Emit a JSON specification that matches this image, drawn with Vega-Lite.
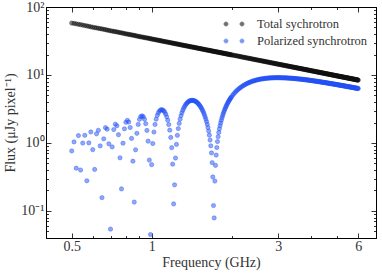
{
"$schema": "https://vega.github.io/schema/vega-lite/v6.json",
"width": 330, "height": 231,
"autosize": {"type": "none"},
"padding": {"left": 46, "top": 7, "right": 6, "bottom": 35},
"background": "white",
"data": {"values": [
{"f":0.50,"t":58.00,"p":0.763},{"f":0.51,"t":57.23,"p":1.035},{"f":0.52,"t":56.47,"p":0.425},{"f":0.53,"t":55.70,"p":1.284},{"f":0.54,"t":54.94,"p":0.400},
{"f":0.55,"t":54.17,"p":0.997},{"f":0.56,"t":53.40,"p":1.294},{"f":0.57,"t":52.64,"p":0.278},{"f":0.58,"t":51.87,"p":1.003},{"f":0.59,"t":51.11,"p":1.450},
{"f":0.60,"t":50.34,"p":0.796},{"f":0.61,"t":49.77,"p":0.408},{"f":0.62,"t":49.20,"p":1.361},{"f":0.63,"t":48.64,"p":1.535},{"f":0.64,"t":48.07,"p":0.906},
{"f":0.65,"t":47.50,"p":0.157},{"f":0.66,"t":46.93,"p":1.151},{"f":0.67,"t":46.36,"p":1.680},{"f":0.68,"t":45.80,"p":1.592},{"f":0.69,"t":45.23,"p":0.971},
{"f":0.70,"t":44.66,"p":0.054},{"f":0.71,"t":44.22,"p":0.874},{"f":0.72,"t":43.78,"p":1.572},{"f":0.73,"t":43.34,"p":1.891},{"f":0.74,"t":42.90,"p":1.789},
{"f":0.75,"t":42.46,"p":1.321},{"f":0.76,"t":42.02,"p":0.605},{"f":0.77,"t":41.58,"p":0.211},{"f":0.78,"t":41.14,"p":0.991},{"f":0.79,"t":40.70,"p":1.615},
{"f":0.80,"t":40.26,"p":2.011},{"f":0.81,"t":39.91,"p":2.150},{"f":0.82,"t":39.55,"p":2.030},{"f":0.83,"t":39.20,"p":1.686},{"f":0.84,"t":38.85,"p":1.167},
{"f":0.85,"t":38.50,"p":0.539},{"f":0.86,"t":38.14,"p":0.135},{"f":0.87,"t":37.79,"p":0.793},{"f":0.88,"t":37.44,"p":1.384},{"f":0.89,"t":37.08,"p":1.871},
{"f":0.90,"t":36.73,"p":2.226},{"f":0.91,"t":36.44,"p":2.441},{"f":0.92,"t":36.15,"p":2.508},{"f":0.93,"t":35.87,"p":2.435},{"f":0.94,"t":35.58,"p":2.235},
{"f":0.95,"t":35.29,"p":1.923},{"f":0.96,"t":35.00,"p":1.526},{"f":0.97,"t":34.71,"p":1.063},{"f":0.98,"t":34.43,"p":0.560},{"f":0.99,"t":34.14,"p":0.045},
{"f":1.00,"t":33.85,"p":0.480},{"f":1.01,"t":33.61,"p":0.981},{"f":1.02,"t":33.37,"p":1.448},{"f":1.03,"t":33.12,"p":1.870},{"f":1.04,"t":32.88,"p":2.237},
{"f":1.05,"t":32.64,"p":2.541},{"f":1.06,"t":32.40,"p":2.779},{"f":1.07,"t":32.16,"p":2.947},{"f":1.08,"t":31.91,"p":3.050},{"f":1.09,"t":31.67,"p":3.085},
{"f":1.10,"t":31.43,"p":3.057},{"f":1.11,"t":31.23,"p":2.974},{"f":1.12,"t":31.02,"p":2.838},{"f":1.13,"t":30.82,"p":2.652},{"f":1.14,"t":30.61,"p":2.423},
{"f":1.15,"t":30.41,"p":2.159},{"f":1.16,"t":30.20,"p":1.863},{"f":1.17,"t":30.00,"p":1.543},{"f":1.18,"t":29.79,"p":1.204},{"f":1.19,"t":29.59,"p":0.852},
{"f":1.20,"t":29.38,"p":0.488},{"f":1.21,"t":29.20,"p":0.127},{"f":1.22,"t":29.02,"p":0.242},{"f":1.23,"t":28.85,"p":0.600},{"f":1.24,"t":28.67,"p":0.953},
{"f":1.25,"t":28.49,"p":1.296},{"f":1.26,"t":28.31,"p":1.627},{"f":1.27,"t":28.13,"p":1.940},{"f":1.28,"t":27.96,"p":2.239},{"f":1.29,"t":27.78,"p":2.517},
{"f":1.30,"t":27.60,"p":2.774},{"f":1.31,"t":27.45,"p":3.012},{"f":1.32,"t":27.29,"p":3.233},{"f":1.33,"t":27.14,"p":3.428},{"f":1.34,"t":26.98,"p":3.603},
{"f":1.35,"t":26.83,"p":3.756},{"f":1.36,"t":26.68,"p":3.885},{"f":1.37,"t":26.52,"p":3.994},{"f":1.38,"t":26.37,"p":4.084},{"f":1.39,"t":26.21,"p":4.151},
{"f":1.40,"t":26.06,"p":4.197},{"f":1.41,"t":25.92,"p":4.228},{"f":1.42,"t":25.79,"p":4.239},{"f":1.43,"t":25.65,"p":4.234},{"f":1.44,"t":25.52,"p":4.210},
{"f":1.45,"t":25.38,"p":4.171},{"f":1.46,"t":25.24,"p":4.118},{"f":1.47,"t":25.11,"p":4.047},{"f":1.48,"t":24.97,"p":3.966},{"f":1.49,"t":24.84,"p":3.872},
{"f":1.50,"t":24.70,"p":3.767},{"f":1.51,"t":24.58,"p":3.652},{"f":1.52,"t":24.46,"p":3.527},{"f":1.53,"t":24.34,"p":3.390},{"f":1.54,"t":24.22,"p":3.247},
{"f":1.55,"t":24.10,"p":3.097},{"f":1.56,"t":23.97,"p":2.937},{"f":1.57,"t":23.85,"p":2.773},{"f":1.58,"t":23.73,"p":2.604},{"f":1.59,"t":23.61,"p":2.425},
{"f":1.60,"t":23.49,"p":2.247},{"f":1.61,"t":23.38,"p":2.063},{"f":1.62,"t":23.27,"p":1.877},{"f":1.63,"t":23.17,"p":1.688},{"f":1.64,"t":23.06,"p":1.497},
{"f":1.65,"t":22.95,"p":1.302},{"f":1.66,"t":22.84,"p":1.105},{"f":1.67,"t":22.73,"p":0.909},{"f":1.68,"t":22.63,"p":0.713},{"f":1.69,"t":22.52,"p":0.513},
{"f":1.70,"t":22.41,"p":0.316},{"f":1.71,"t":22.31,"p":0.120},{"f":1.72,"t":22.22,"p":0.079},{"f":1.73,"t":22.12,"p":0.275},{"f":1.74,"t":22.02,"p":0.468},
{"f":1.75,"t":21.93,"p":0.663},{"f":1.76,"t":21.83,"p":0.855},{"f":1.77,"t":21.73,"p":1.048},{"f":1.78,"t":21.63,"p":1.237},{"f":1.79,"t":21.54,"p":1.427},
{"f":1.80,"t":21.44,"p":1.613},{"f":1.81,"t":21.35,"p":1.794},{"f":1.82,"t":21.26,"p":1.976},{"f":1.83,"t":21.18,"p":2.158},{"f":1.84,"t":21.09,"p":2.337},
{"f":1.85,"t":21.00,"p":2.507},{"f":1.86,"t":20.91,"p":2.679},{"f":1.87,"t":20.82,"p":2.845},{"f":1.88,"t":20.74,"p":3.016},{"f":1.89,"t":20.65,"p":3.176},
{"f":1.90,"t":20.56,"p":3.334},{"f":1.91,"t":20.48,"p":3.494},{"f":1.92,"t":20.40,"p":3.648},{"f":1.93,"t":20.32,"p":3.800},{"f":1.94,"t":20.24,"p":3.953},
{"f":1.95,"t":20.16,"p":4.098},{"f":1.96,"t":20.07,"p":4.244},{"f":1.97,"t":19.99,"p":4.381},{"f":1.98,"t":19.91,"p":4.515},{"f":1.99,"t":19.83,"p":4.652},
{"f":2.00,"t":19.75,"p":4.784},
{"f":2.02,"t":19.61,"p":5.04},{"f":2.04,"t":19.47,"p":5.29},{"f":2.06,"t":19.32,"p":5.52},{"f":2.08,"t":19.18,"p":5.75},{"f":2.10,"t":19.04,"p":5.96},
{"f":2.12,"t":18.90,"p":6.16},{"f":2.14,"t":18.76,"p":6.35},{"f":2.16,"t":18.62,"p":6.53},{"f":2.18,"t":18.48,"p":6.70},{"f":2.20,"t":18.34,"p":6.87},
{"f":2.22,"t":18.22,"p":7.02},{"f":2.24,"t":18.09,"p":7.16},{"f":2.26,"t":17.97,"p":7.30},{"f":2.28,"t":17.84,"p":7.44},{"f":2.30,"t":17.72,"p":7.58},
{"f":2.32,"t":17.60,"p":7.69},{"f":2.34,"t":17.49,"p":7.79},{"f":2.36,"t":17.37,"p":7.90},{"f":2.38,"t":17.26,"p":8.00},{"f":2.40,"t":17.14,"p":8.11},
{"f":2.42,"t":17.03,"p":8.18},{"f":2.44,"t":16.93,"p":8.26},{"f":2.46,"t":16.82,"p":8.34},{"f":2.48,"t":16.72,"p":8.42},{"f":2.50,"t":16.61,"p":8.49},
{"f":2.52,"t":16.51,"p":8.55},{"f":2.54,"t":16.41,"p":8.60},{"f":2.56,"t":16.31,"p":8.66},{"f":2.58,"t":16.21,"p":8.71},{"f":2.60,"t":16.11,"p":8.77},
{"f":2.62,"t":16.02,"p":8.80},{"f":2.64,"t":15.93,"p":8.84},{"f":2.66,"t":15.83,"p":8.87},{"f":2.68,"t":15.74,"p":8.91},{"f":2.70,"t":15.65,"p":8.95},
{"f":2.72,"t":15.56,"p":8.97},{"f":2.74,"t":15.47,"p":8.99},{"f":2.76,"t":15.39,"p":9.01},{"f":2.78,"t":15.30,"p":9.04},{"f":2.80,"t":15.21,"p":9.06},
{"f":2.82,"t":15.13,"p":9.07},{"f":2.84,"t":15.05,"p":9.08},{"f":2.86,"t":14.96,"p":9.09},{"f":2.88,"t":14.88,"p":9.10},{"f":2.90,"t":14.80,"p":9.11},
{"f":2.92,"t":14.72,"p":9.11},{"f":2.94,"t":14.64,"p":9.12},{"f":2.96,"t":14.57,"p":9.12},{"f":2.98,"t":14.49,"p":9.12},{"f":3.00,"t":14.41,"p":9.12},
{"f":3.02,"t":14.34,"p":9.12},{"f":3.04,"t":14.27,"p":9.11},{"f":3.06,"t":14.20,"p":9.11},{"f":3.08,"t":14.13,"p":9.10},{"f":3.10,"t":14.06,"p":9.10},
{"f":3.12,"t":13.99,"p":9.09},{"f":3.14,"t":13.92,"p":9.08},{"f":3.16,"t":13.85,"p":9.08},{"f":3.18,"t":13.78,"p":9.07},{"f":3.20,"t":13.71,"p":9.06},
{"f":3.22,"t":13.65,"p":9.04},{"f":3.24,"t":13.58,"p":9.03},{"f":3.26,"t":13.52,"p":9.01},{"f":3.28,"t":13.46,"p":9.00},{"f":3.30,"t":13.40,"p":8.99},
{"f":3.32,"t":13.33,"p":8.97},{"f":3.34,"t":13.27,"p":8.96},{"f":3.36,"t":13.21,"p":8.94},{"f":3.38,"t":13.14,"p":8.93},{"f":3.40,"t":13.08,"p":8.92},
{"f":3.42,"t":13.02,"p":8.90},{"f":3.44,"t":12.97,"p":8.88},{"f":3.46,"t":12.91,"p":8.86},{"f":3.48,"t":12.85,"p":8.84},{"f":3.50,"t":12.80,"p":8.82},
{"f":3.52,"t":12.74,"p":8.80},{"f":3.54,"t":12.68,"p":8.78},{"f":3.56,"t":12.62,"p":8.76},{"f":3.58,"t":12.57,"p":8.74},{"f":3.60,"t":12.51,"p":8.72},
{"f":3.62,"t":12.46,"p":8.70},{"f":3.64,"t":12.41,"p":8.68},{"f":3.66,"t":12.36,"p":8.66},{"f":3.68,"t":12.31,"p":8.64},{"f":3.70,"t":12.26,"p":8.62},
{"f":3.72,"t":12.20,"p":8.59},{"f":3.74,"t":12.15,"p":8.57},{"f":3.76,"t":12.10,"p":8.55},{"f":3.78,"t":12.05,"p":8.53},{"f":3.80,"t":12.00,"p":8.51},
{"f":3.82,"t":11.95,"p":8.49},{"f":3.84,"t":11.91,"p":8.47},{"f":3.86,"t":11.86,"p":8.44},{"f":3.88,"t":11.81,"p":8.42},{"f":3.90,"t":11.77,"p":8.40},
{"f":3.92,"t":11.72,"p":8.37},{"f":3.94,"t":11.67,"p":8.35},{"f":3.96,"t":11.62,"p":8.33},{"f":3.98,"t":11.58,"p":8.31},{"f":4.00,"t":11.53,"p":8.28},
{"f":4.02,"t":11.49,"p":8.26},{"f":4.04,"t":11.44,"p":8.24},{"f":4.06,"t":11.40,"p":8.21},{"f":4.08,"t":11.36,"p":8.19},{"f":4.10,"t":11.32,"p":8.17},
{"f":4.12,"t":11.27,"p":8.15},{"f":4.14,"t":11.23,"p":8.12},{"f":4.16,"t":11.19,"p":8.10},{"f":4.18,"t":11.14,"p":8.08},{"f":4.20,"t":11.10,"p":8.06},
{"f":4.22,"t":11.06,"p":8.03},{"f":4.24,"t":11.02,"p":8.01},{"f":4.26,"t":10.98,"p":7.99},{"f":4.28,"t":10.94,"p":7.96},{"f":4.30,"t":10.90,"p":7.94},
{"f":4.32,"t":10.86,"p":7.92},{"f":4.34,"t":10.82,"p":7.90},{"f":4.36,"t":10.78,"p":7.87},{"f":4.38,"t":10.74,"p":7.85},{"f":4.40,"t":10.70,"p":7.83},
{"f":4.42,"t":10.66,"p":7.80},{"f":4.44,"t":10.63,"p":7.78},{"f":4.46,"t":10.59,"p":7.76},{"f":4.48,"t":10.56,"p":7.74},{"f":4.50,"t":10.52,"p":7.72},
{"f":4.52,"t":10.48,"p":7.70},{"f":4.54,"t":10.45,"p":7.68},{"f":4.56,"t":10.41,"p":7.65},{"f":4.58,"t":10.38,"p":7.63},{"f":4.60,"t":10.34,"p":7.61},
{"f":4.62,"t":10.31,"p":7.59},{"f":4.64,"t":10.27,"p":7.57},{"f":4.66,"t":10.24,"p":7.55},{"f":4.68,"t":10.20,"p":7.52},{"f":4.70,"t":10.17,"p":7.50},
{"f":4.72,"t":10.14,"p":7.48},{"f":4.74,"t":10.10,"p":7.46},{"f":4.76,"t":10.07,"p":7.44},{"f":4.78,"t":10.03,"p":7.42},{"f":4.80,"t":10.00,"p":7.40},
{"f":4.82,"t":9.97,"p":7.38},{"f":4.84,"t":9.94,"p":7.36},{"f":4.86,"t":9.91,"p":7.34},{"f":4.88,"t":9.88,"p":7.32},{"f":4.90,"t":9.85,"p":7.30},
{"f":4.92,"t":9.81,"p":7.28},{"f":4.94,"t":9.78,"p":7.26},{"f":4.96,"t":9.75,"p":7.24},{"f":4.98,"t":9.72,"p":7.22},{"f":5.00,"t":9.69,"p":7.20},
{"f":5.02,"t":9.66,"p":7.18},{"f":5.04,"t":9.63,"p":7.16},{"f":5.06,"t":9.60,"p":7.14},{"f":5.08,"t":9.57,"p":7.12},{"f":5.10,"t":9.55,"p":7.10},
{"f":5.12,"t":9.52,"p":7.08},{"f":5.14,"t":9.49,"p":7.06},{"f":5.16,"t":9.46,"p":7.04},{"f":5.18,"t":9.43,"p":7.02},{"f":5.20,"t":9.40,"p":7.01},
{"f":5.22,"t":9.37,"p":6.99},{"f":5.24,"t":9.35,"p":6.97},{"f":5.26,"t":9.32,"p":6.95},{"f":5.28,"t":9.29,"p":6.93},{"f":5.30,"t":9.27,"p":6.91},
{"f":5.32,"t":9.24,"p":6.90},{"f":5.34,"t":9.21,"p":6.88},{"f":5.36,"t":9.18,"p":6.86},{"f":5.38,"t":9.16,"p":6.84},{"f":5.40,"t":9.13,"p":6.82},
{"f":5.42,"t":9.11,"p":6.81},{"f":5.44,"t":9.08,"p":6.79},{"f":5.46,"t":9.06,"p":6.77},{"f":5.48,"t":9.03,"p":6.75},{"f":5.50,"t":9.01,"p":6.74},
{"f":5.52,"t":8.98,"p":6.72},{"f":5.54,"t":8.96,"p":6.70},{"f":5.56,"t":8.93,"p":6.69},{"f":5.58,"t":8.91,"p":6.67},{"f":5.60,"t":8.88,"p":6.65},
{"f":5.62,"t":8.86,"p":6.63},{"f":5.64,"t":8.83,"p":6.62},{"f":5.66,"t":8.81,"p":6.60},{"f":5.68,"t":8.78,"p":6.58},{"f":5.70,"t":8.76,"p":6.57},
{"f":5.72,"t":8.74,"p":6.55},{"f":5.74,"t":8.71,"p":6.53},{"f":5.76,"t":8.69,"p":6.52},{"f":5.78,"t":8.66,"p":6.50},{"f":5.80,"t":8.64,"p":6.48},
{"f":5.82,"t":8.62,"p":6.47},{"f":5.84,"t":8.59,"p":6.45},{"f":5.86,"t":8.57,"p":6.43},{"f":5.88,"t":8.55,"p":6.42},{"f":5.90,"t":8.53,"p":6.40},
{"f":5.92,"t":8.50,"p":6.39},{"f":5.94,"t":8.48,"p":6.37},{"f":5.96,"t":8.46,"p":6.35},{"f":5.98,"t":8.43,"p":6.34},{"f":6.00,"t":8.41,"p":6.32}
]},
"layer": [
{
"mark": {"type": "circle", "size": 18, "fillOpacity": 0.5, "strokeOpacity": 0.7, "strokeWidth": 0.6},
"encoding": {
"x": {"field": "f", "type": "quantitative", "scale": {"type": "log", "domain": [0.4, 7], "nice": false},
 "axis": {"orient": "bottom", "values": [0.5,0.6,0.7,0.8,0.9,1,2,3,4,5,6],
  "labelExpr": "datum.value==0.5?'0.5':datum.value==1?'1':datum.value==3?'3':datum.value==6?'6':''",
  "tickSize": {"condition": {"test": "datum.value==0.5||datum.value==1||datum.value==3||datum.value==6", "value": -5}, "value": -2.5},
  "labelPadding": 6, "title": "Frequency (GHz)", "titlePadding": 0}},
"y": {"field": "t", "type": "quantitative", "scale": {"type": "log", "domain": [0.04, 100], "nice": false},
 "axis": {"orient": "left", "values": [0.04,0.05,0.06,0.07,0.08,0.09,0.1,0.2,0.3,0.4,0.5,0.6,0.7,0.8,0.9,1,2,3,4,5,6,7,8,9,10,20,30,40,50,60,70,80,90,100],
  "labelExpr": "datum.value==0.1?'10⁻¹':datum.value==1?'10⁰':datum.value==10?'10¹':datum.value==100?'10²':''",
  "tickSize": {"condition": {"test": "datum.value==0.1||datum.value==1||datum.value==10||datum.value==100", "value": -5}, "value": -2.5},
  "labelPadding": 7, "title": "Flux (μJy pixel⁻¹)", "titlePadding": 3}},
"fill": {"datum": "Total sychrotron", "scale": {"domain": ["Total sychrotron", "Polarized synchrotron"], "range": ["#111111", "#2452f5"]},
 "legend": {"title": null, "orient": "top-right", "offset": 8, "padding": 0, "symbolType": "M -0.705 0 A 0.235 0.235 0 1 1 -1.175 0 A 0.235 0.235 0 1 1 -0.705 0 Z M 1.175 0 A 0.235 0.235 0 1 1 0.705 0 A 0.235 0.235 0 1 1 1.175 0 Z", "symbolSize": 289, "symbolOpacity": 0.6, "symbolStrokeWidth": 0.8, "labelFont": "Liberation Serif", "labelFontSize": 12.5, "labelColor": "#333", "labelOffset": 14, "rowPadding": 1}},
"stroke": {"datum": "Total sychrotron", "scale": {"domain": ["Total sychrotron", "Polarized synchrotron"], "range": ["#111111", "#2452f5"]},
 "legend": {"title": null, "orient": "top-right", "offset": 8, "padding": 0, "symbolType": "M -0.705 0 A 0.235 0.235 0 1 1 -1.175 0 A 0.235 0.235 0 1 1 -0.705 0 Z M 1.175 0 A 0.235 0.235 0 1 1 0.705 0 A 0.235 0.235 0 1 1 1.175 0 Z", "symbolSize": 289, "symbolOpacity": 0.6, "symbolStrokeWidth": 0.8, "labelFont": "Liberation Serif", "labelFontSize": 12.5, "labelColor": "#333", "labelOffset": 14, "rowPadding": 1}}
}
},
{
"mark": {"type": "circle", "size": 18, "fillOpacity": 0.5, "strokeOpacity": 0.7, "strokeWidth": 0.6},
"encoding": {
"x": {"field": "f", "type": "quantitative", "scale": {"type": "log", "domain": [0.4, 7], "nice": false},
 "axis": {"orient": "top", "values": [0.5,0.6,0.7,0.8,0.9,1,2,3,4,5,6], "labels": false, "title": null,
  "tickSize": {"condition": {"test": "datum.value==0.5||datum.value==1||datum.value==3||datum.value==6", "value": -5}, "value": -2.5}}},
"y": {"field": "p", "type": "quantitative", "scale": {"type": "log", "domain": [0.04, 100], "nice": false},
 "axis": {"orient": "right", "values": [0.04,0.05,0.06,0.07,0.08,0.09,0.1,0.2,0.3,0.4,0.5,0.6,0.7,0.8,0.9,1,2,3,4,5,6,7,8,9,10,20,30,40,50,60,70,80,90,100], "labels": false, "title": null,
  "tickSize": {"condition": {"test": "datum.value==0.1||datum.value==1||datum.value==10||datum.value==100", "value": -5}, "value": -2.5}}},
"fill": {"datum": "Polarized synchrotron"},
"stroke": {"datum": "Polarized synchrotron"}
}
}
],
"resolve": {"axis": {"x": "independent", "y": "independent"}},
"config": {
"font": "Liberation Serif",
"view": {"stroke": "black", "strokeWidth": 1},
"axis": {"domainColor": "black", "domainWidth": 1, "tickColor": "black", "tickWidth": 0.8, "labelColor": "#333", "titleColor": "#333", "labelFont": "Liberation Serif", "titleFont": "Liberation Serif", "labelFontSize": 14, "titleFontSize": 14, "titleFontWeight": "normal", "grid": false, "labelOverlap": false, "labelFlush": false, "labelBound": false}
}
}
